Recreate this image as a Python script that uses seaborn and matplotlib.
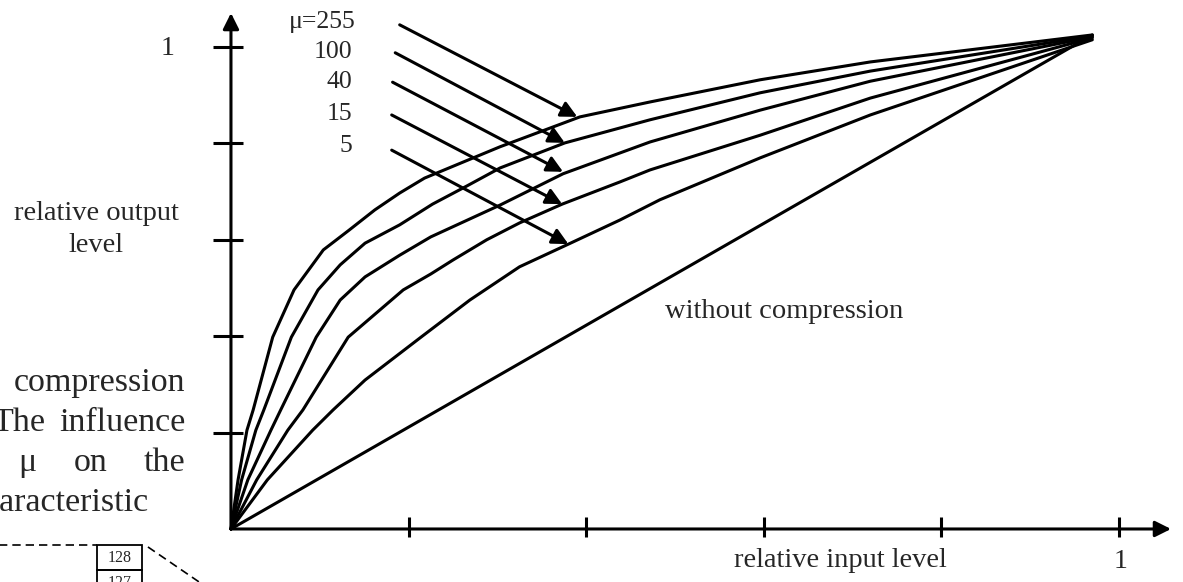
"""
Mu-law compression characteristic: relative output level vs relative input
level for several values of mu (scanned textbook figure).
"""

import matplotlib

matplotlib.use("Agg")
import matplotlib.pyplot as plt
import numpy as np
import pandas as pd
import seaborn as sns

# ---------------------------------------------------------------------------
# Data (relative input level, relative output level)
# ---------------------------------------------------------------------------
mu_labels = ["μ=255", "100", "40", "15", "5"]

mu255_x = [0, 0.008, 0.018, 0.025, 0.047, 0.071, 0.104, 0.133, 0.162, 0.190,
           0.218, 0.303, 0.393, 0.472, 0.596, 0.720, 0.970]
mu255_y = [0, 0.102, 0.205, 0.247, 0.398, 0.496, 0.579, 0.620, 0.662, 0.697,
           0.728, 0.793, 0.855, 0.886, 0.932, 0.969, 1.025]

mu100_x = [0, 0.012, 0.028, 0.037, 0.068, 0.098, 0.123, 0.151, 0.190, 0.227,
           0.266, 0.303, 0.376, 0.472, 0.596, 0.720, 0.970]
mu100_y = [0, 0.102, 0.205, 0.247, 0.398, 0.496, 0.548, 0.593, 0.631, 0.674,
           0.712, 0.749, 0.801, 0.849, 0.905, 0.950, 1.023]

mu40_x = [0, 0.019, 0.045, 0.056, 0.096, 0.123, 0.151, 0.190, 0.225, 0.303,
          0.374, 0.472, 0.596, 0.720, 0.970]
mu40_y = [0, 0.102, 0.205, 0.247, 0.398, 0.475, 0.523, 0.568, 0.606, 0.672,
          0.737, 0.803, 0.869, 0.929, 1.021]

mu15_x = [0, 0.029, 0.064, 0.081, 0.132, 0.194, 0.225, 0.250, 0.288, 0.325,
          0.373, 0.438, 0.472, 0.596, 0.720, 0.970]
mu15_y = [0, 0.102, 0.205, 0.247, 0.398, 0.496, 0.529, 0.558, 0.600, 0.635,
          0.674, 0.720, 0.745, 0.817, 0.894, 1.019]

mu5_x = [0, 0.041, 0.092, 0.115, 0.151, 0.214, 0.269, 0.325, 0.380, 0.438,
         0.483, 0.596, 0.720, 0.970]
mu5_y = [0, 0.102, 0.205, 0.247, 0.309, 0.398, 0.475, 0.544, 0.591, 0.641,
         0.683, 0.770, 0.859, 1.015]

linear_x = [0, 0.970]
linear_y = [0, 1.025]

# points on each curve where the label arrows end
arrow_tip_x = [0.390, 0.376, 0.374, 0.373, 0.380]
arrow_tip_y = [0.855, 0.801, 0.741, 0.674, 0.591]

tick_values = [0.2, 0.4, 0.6, 0.8, 1.0]
tick_labels = ["", "", "", "", "1"]

# ---------------------------------------------------------------------------
sns.set_theme(style="white")
plt.rcParams["font.family"] = ["Liberation Serif", "DejaVu Serif"]

curves = [(mu255_x, mu255_y), (mu100_x, mu100_y), (mu40_x, mu40_y),
          (mu15_x, mu15_y), (mu5_x, mu5_y), (linear_x, linear_y)]
names = mu_labels + ["without compression"]
df = pd.concat(
    [pd.DataFrame({"x": cx, "y": cy, "curve": n}) for (cx, cy), n in zip(curves, names)],
    ignore_index=True,
)

fig = plt.figure(figsize=(11.83, 5.82), dpi=100)
ax = fig.add_axes([0, 0, 1, 1])
ax.set_xlim(-0.2601, 1.0721)
ax.set_ylim(-0.1100, 1.0975)
ax.axis("off")

LW = 2.2
sns.lineplot(data=df, x="x", y="y", hue="curve", palette={n: "black" for n in names},
             estimator=None, sort=False, legend=False, linewidth=LW, ax=ax,
             solid_joinstyle="round", solid_capstyle="round")

# axes drawn as arrows through the origin
arrow_kw = dict(arrowstyle="-|>", color="black", lw=LW, mutation_scale=24,
                shrinkA=0, shrinkB=0)
ax.annotate("", xy=(0, 1.0705), xytext=(0, 0), arrowprops=arrow_kw)
ax.annotate("", xy=(1.0586, 0), xytext=(0, 0), arrowprops=arrow_kw)

ax.hlines(tick_values, -0.0203, 0.0135, color="black", lw=LW)
ax.vlines(tick_values, -0.017, 0.024, color="black", lw=LW)
for v, lab in zip(tick_values, tick_labels):
    if lab:
        ax.text(-0.071, v - 0.017, lab, fontsize=20, ha="center", va="baseline")
        ax.text(v + 0.002, -0.081, lab, fontsize=20, ha="center", va="baseline")

ax.text(-0.152, 0.641, "relative output", fontsize=20.5, ha="center", va="baseline")
ax.text(-0.152, 0.575, "level", fontsize=20.5, ha="center", va="baseline")
ax.text(0.686, -0.079, "relative input level", fontsize=20.5, ha="center", va="baseline")
ax.text(0.489, 0.438, "without compression", fontsize=20.5, ha="left", va="baseline")

# mu labels with arrows pointing at their curves
label_y = [1.039, 0.977, 0.915, 0.849, 0.782]
start_x = [0.190, 0.185, 0.182, 0.181, 0.181]
start_y = [1.046, 0.988, 0.927, 0.859, 0.786]
for i, lab in enumerate(mu_labels):
    ax.text(0.140 if i == 0 else 0.137, label_y[i], lab, fontsize=18.5,
            ha="right", va="baseline")
    ax.annotate("", xy=(arrow_tip_x[i], arrow_tip_y[i]), xytext=(start_x[i], start_y[i]),
                arrowprops=dict(arrowstyle="-|>", color="black", lw=LW,
                                mutation_scale=24, shrinkA=0, shrinkB=0))

# fragment of the surrounding page text (cut off at the left edge)
body = 24.5
ax.text(-0.0518, 0.286, "compression", fontsize=body, ha="right", va="baseline")
ax.text(-0.269, 0.203, "The", fontsize=body, ha="left", va="baseline")
ax.text(-0.0518, 0.203, "influence", fontsize=body, ha="right", va="baseline")
ax.text(-0.229, 0.120, "μ", fontsize=body, ha="center", va="baseline")
ax.text(-0.158, 0.120, "on", fontsize=body, ha="center", va="baseline")
ax.text(-0.0518, 0.120, "the", fontsize=body, ha="right", va="baseline")
ax.text(-0.296, 0.037, "characteristic", fontsize=body, ha="left", va="baseline")

# small boxes of the next figure peeking in at the bottom
ax.plot([-0.262, -0.151], [-0.0332, -0.0332], color="black", lw=1.2, ls=(0, (5, 3)))
ax.plot([-0.0935, -0.0200], [-0.0373, -0.1300], color="black", lw=1.2, ls=(0, (5, 3)))
for top, lab in [(-0.0332, "128"), (-0.0851, "127")]:
    ax.add_patch(plt.Rectangle((-0.1509, top - 0.0519), 0.0507, 0.0519,
                               fill=False, ec="black", lw=1.3))
    ax.text(-0.1255, top - 0.026, lab, fontsize=11.5, ha="center", va="center")

fig.savefig("out.png", dpi=100)
